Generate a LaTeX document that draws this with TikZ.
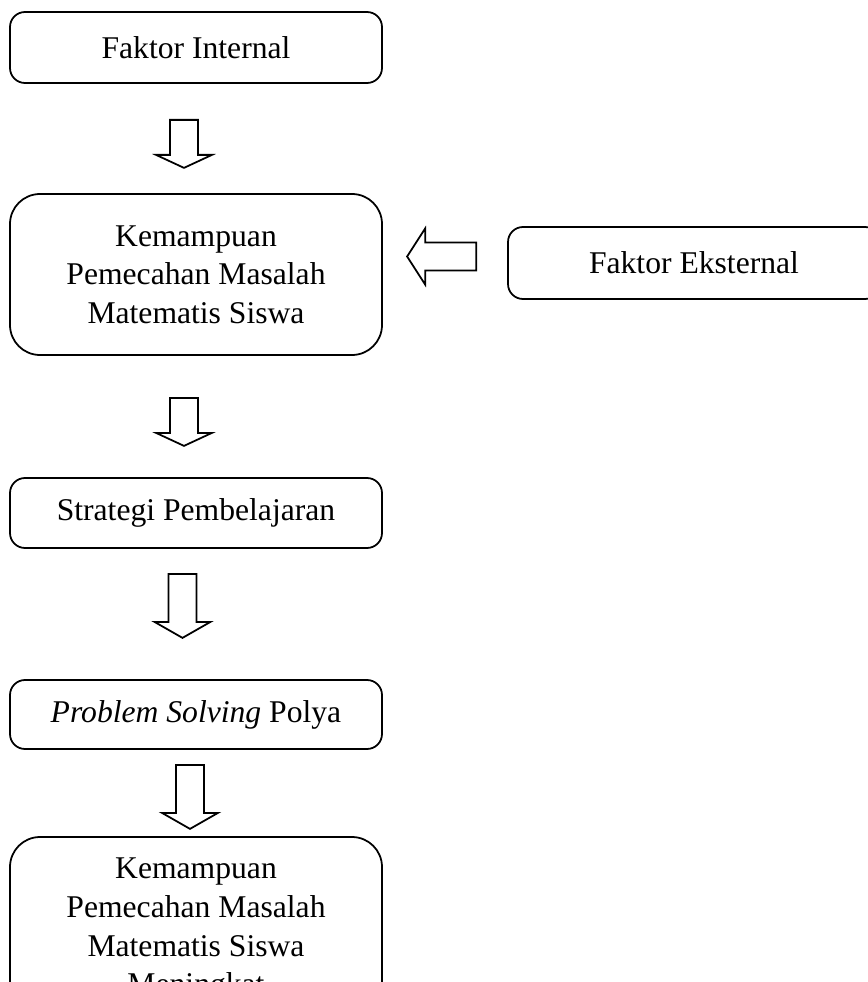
\documentclass[tikz,border=0pt]{standalone}
\usepackage{fontspec}
\setmainfont{Liberation Serif}
\usepackage{tikz}

\tikzset{%
  box/.style={draw, line width=1pt, rounded corners=0.3cm, minimum width=7.44cm, inner sep=0pt, align=center, font=\fontsize{18}{22}\selectfont},%
  bigbox/.style={box, rounded corners=0.6cm},%
  pics/blockarrow/.style args={#1/#2}{code={%
    \draw[line width=1pt, line join=miter, fill=white] (0,0.28) -- ({#1-#2},0.28) -- ({#1-#2},0.56) -- (#1,0) -- ({#1-#2},-0.56) -- ({#1-#2},-0.28) -- (0,-0.28) -- cycle;%
  }},%
}

\begin{document}
\begin{tikzpicture}%
\useasboundingbox (0,0) rectangle (17.34,-19.64);%
% boxes
\node[box, minimum height=1.42cm] (fi) at (3.92,-0.95) {Faktor Internal};%
\node[bigbox, minimum height=3.22cm] (kp1) at (3.92,-5.49) {Kemampuan\\Pemecahan Masalah\\Matematis Siswa};%
\node[box, minimum height=1.44cm] (fe) at (13.88,-5.26) {Faktor Eksternal};%
\node[box, minimum height=1.40cm] (sp) at (3.92,-10.26) {Strategi Pembelajaran};%
\node[box, minimum height=1.38cm] (ps) at (3.92,-14.29) {\textit{Problem Solving} Polya};%
\node[bigbox, minimum height=3.72cm] (kp2) at (3.92,-18.60) {Kemampuan\\Pemecahan Masalah\\Matematis Siswa\\Meningkat};%
% block arrows
\pic[rotate=-90] at ([xshift=-0.24cm,yshift=-0.72cm]fi.south) {blockarrow=0.96/0.26};%
\pic[rotate=180] at ([xshift=-0.62cm,yshift=0.13cm]fe.west) {blockarrow=1.38/0.36};%
\pic[rotate=-90] at ([xshift=-0.24cm,yshift=-0.84cm]kp1.south) {blockarrow=0.96/0.26};%
\pic[rotate=-90] at ([xshift=-0.27cm,yshift=-0.50cm]sp.south) {blockarrow=1.28/0.32};%
\pic[rotate=-90] at ([xshift=-0.12cm,yshift=-0.30cm]ps.south) {blockarrow=1.28/0.32};%
\end{tikzpicture}
\end{document}
